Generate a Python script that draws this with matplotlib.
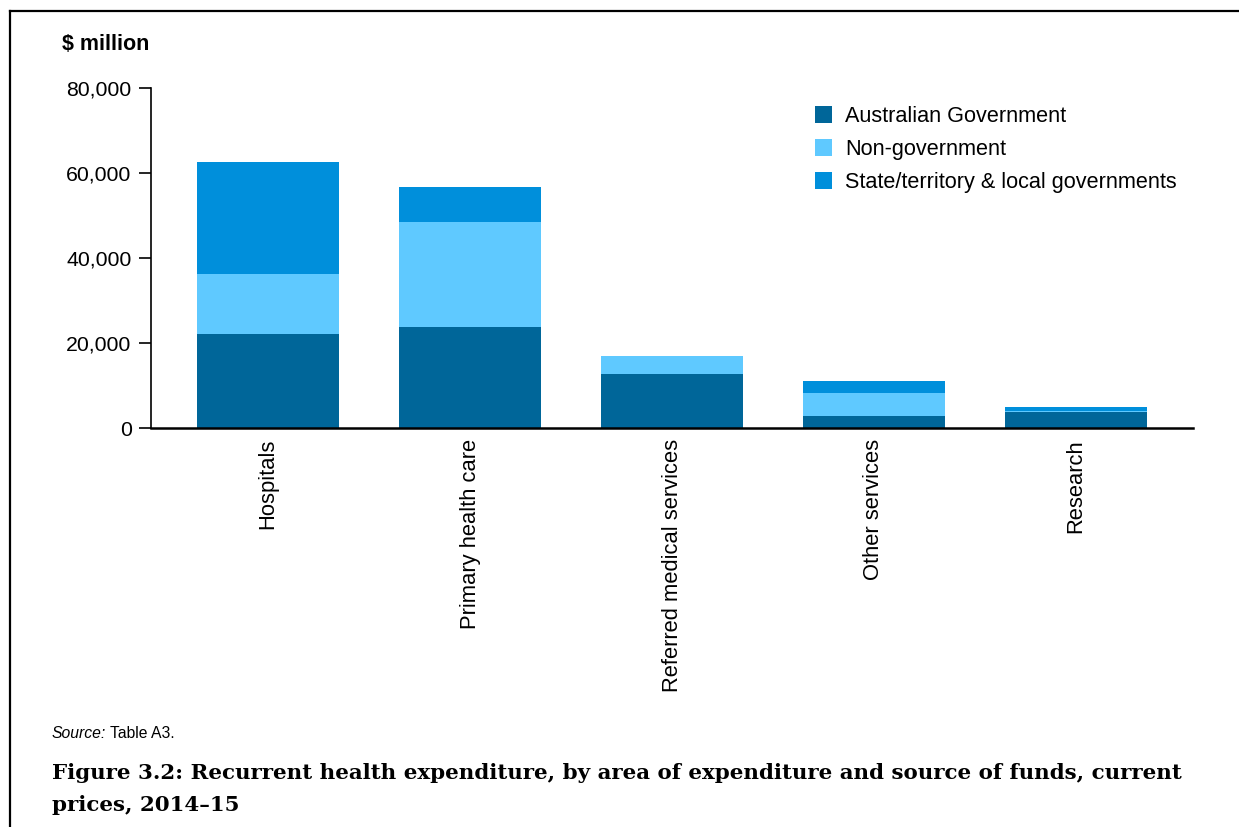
import matplotlib
matplotlib.use("Agg")
import matplotlib.pyplot as plt
from matplotlib.lines import Line2D
from matplotlib.ticker import FuncFormatter

# data ($ million)
areas = ["Hospitals", "Primary health care", "Referred medical services",
         "Other services", "Research"]
aus_gov = [22100, 23800, 12700, 2850, 3750]
non_gov = [14100, 24600, 4250, 5400, 280]
state_local = [26300, 8300, 0, 2800, 900]

series_names = ["Australian Government", "Non-government",
                "State/territory & local governments"]
colors = ["#006699", "#5fc9ff", "#008fdb"]

plt.rcParams['font.family'] = ['Liberation Sans', 'DejaVu Sans']

fig = plt.figure(figsize=(12.39, 8.27), dpi=100)
ax = fig.add_axes([151 / 1239, 1 - 428 / 827, (1193 - 151) / 1239, (428 - 88) / 827])

x = list(range(len(areas)))
bottom2 = [a + b for a, b in zip(aus_gov, non_gov)]
ax.bar(x, aus_gov, width=0.70, color=colors[0], label=series_names[0])
ax.bar(x, non_gov, width=0.70, bottom=aus_gov, color=colors[1], label=series_names[1])
ax.bar(x, state_local, width=0.70, bottom=bottom2, color=colors[2], label=series_names[2])

ax.set_xlim(-0.58, 4.58)
ax.set_ylim(0, 80000)
ax.set_yticks([0, 20000, 40000, 60000, 80000])
ax.yaxis.set_major_formatter(FuncFormatter(lambda v, p: f"{int(v):,}"))
ax.set_xticks(x)
ax.set_xticklabels(areas, rotation=90, va='top', ha='center')

ax.spines['top'].set_visible(False)
ax.spines['right'].set_visible(False)
ax.spines['left'].set_linewidth(1.2)
ax.spines['bottom'].set_linewidth(1.8)
ax.tick_params(axis='y', length=9, width=1.2, pad=5, labelsize=15.3)
ax.tick_params(axis='x', length=0, pad=8, labelsize=15.8)

fig.legend(loc='upper left', bbox_to_anchor=(815 / 1239, 1 - 106 / 827),
           frameon=False, fontsize=15.6, handlelength=0.8, handleheight=0.8,
           handletextpad=0.6, labelspacing=0.55, borderpad=0, borderaxespad=0)

fig.text(62 / 1239, 1 - 45 / 827, "$ million", fontsize=15.5, fontweight='bold',
         va='center', ha='left')

fig.text(52 / 1239, 1 - 733 / 827, "Source:", fontsize=11.3, style='italic',
         va='center', ha='left')
fig.text(110 / 1239, 1 - 733 / 827, "Table A3.", fontsize=11.3, va='center', ha='left')

serif = ['DejaVu Serif', 'Liberation Serif']
fig.text(52 / 1239, 1 - 773 / 827,
         "Figure 3.2: Recurrent health expenditure, by area of expenditure and source of funds, current",
         fontsize=15.4, fontweight='bold', family=serif, va='center', ha='left')
fig.text(52 / 1239, 1 - 805 / 827, "prices, 2014\u201315",
         fontsize=15.4, fontweight='bold', family=serif, va='center', ha='left')

# outer frame (top and left edges visible)
fig.add_artist(Line2D([10 / 1239, 1], [1 - 11 / 827, 1 - 11 / 827],
                      transform=fig.transFigure, color='black', lw=1.6))
fig.add_artist(Line2D([10 / 1239, 10 / 1239], [0, 1 - 11 / 827],
                      transform=fig.transFigure, color='black', lw=1.6))

fig.savefig("out.png", dpi=100)
